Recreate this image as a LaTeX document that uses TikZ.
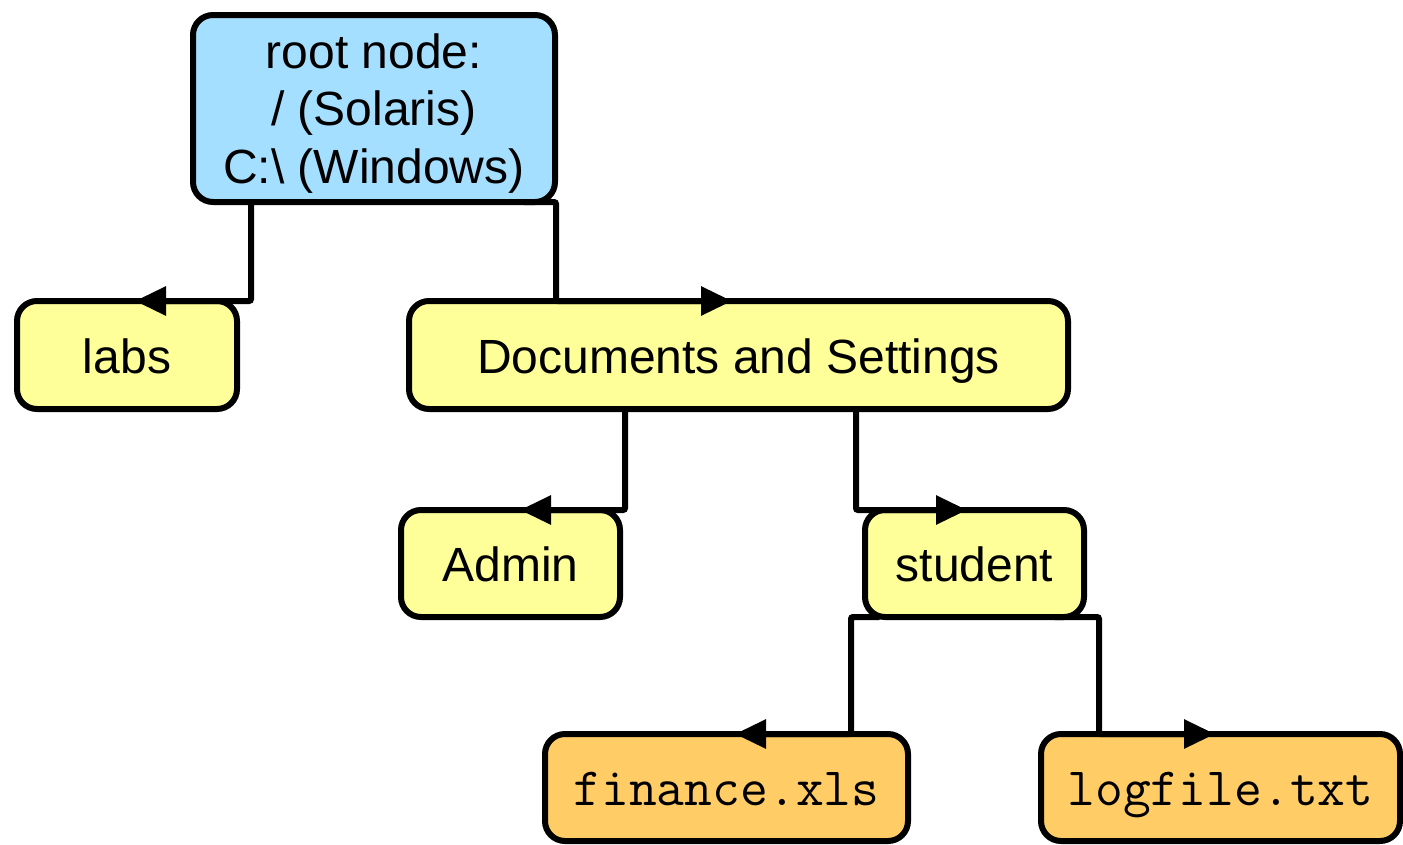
\documentclass[tikz,border=0pt]{standalone}
\usepackage{fontspec}
\setmainfont{Liberation Sans}
\usetikzlibrary{arrows.meta}
\definecolor{rootblue}{HTML}{A5DFFF}
\definecolor{diryellow}{HTML}{FFFF99}
\definecolor{fileorange}{HTML}{FFCC66}
\tikzset{
  box/.style={draw=black, line width=6pt, rounded corners=20pt, inner sep=0pt,
    outer sep=0pt, font=\fontsize{48}{57.5}\selectfont, align=center},
  rootbox/.style={box, fill=rootblue},
  dirbox/.style={box, fill=diryellow, text height=36pt, text depth=0pt},
  filebox/.style={box, fill=fileorange, text height=35pt, text depth=0pt,
    font=\ttfamily\fontsize{54}{60}\selectfont},
  conn/.style={draw=black, line width=6pt, rounded corners=2pt,
    -{Triangle[length=31pt,width=28pt]}},
}
\begin{document}
\begin{tikzpicture}[x=1pt,y=-1pt]
\useasboundingbox (0,0) rectangle (1403,844);
% directory boxes
\node[rootbox, minimum width=362pt, minimum height=187pt] (root) at (374,108.5)
  {\rule{0pt}{44pt}root node:\\/ (Solaris)\\C:\textbackslash\ (Windows)};
\node[dirbox, minimum width=220pt, minimum height=108pt] (labs) at (127,355) {labs};
\node[dirbox, minimum width=659pt, minimum height=108pt] (docs) at (738.5,355) {Documents and Settings};
\node[dirbox, minimum width=219pt, minimum height=107pt] (admin) at (510.5,563.5) {Admin};
\node[dirbox, minimum width=219pt, minimum height=107pt] (student) at (974.5,563.5) {student};
% file boxes
\node[filebox, minimum width=363pt, minimum height=107pt] (finance) at (726.5,787.5) {finance.xls};
\node[filebox, minimum width=359pt, minimum height=107pt] (logfile) at (1220.5,787.5) {logfile.txt};
% elbow connectors
\draw[conn] ([xshift=-123pt]root.south) |- ([xshift=8pt]labs.north);
\draw[conn] ([xshift=150pt]root.south) -- ([xshift=182pt]root.south) |- ([xshift=-6.5pt]docs.north);
\draw[conn] ([xshift=-113.5pt]docs.south) |- ([xshift=9.5pt]admin.north);
\draw[conn] ([xshift=117.5pt]docs.south) |- ([xshift=-7.5pt]student.north);
\draw[conn] ([xshift=-95pt]student.south) -- ([xshift=-123.5pt]student.south) |- ([xshift=8.5pt]finance.north);
\draw[conn] ([xshift=80pt]student.south) -- ([xshift=124.5pt]student.south) |- ([xshift=-5.5pt]logfile.north);
\end{tikzpicture}
\end{document}
